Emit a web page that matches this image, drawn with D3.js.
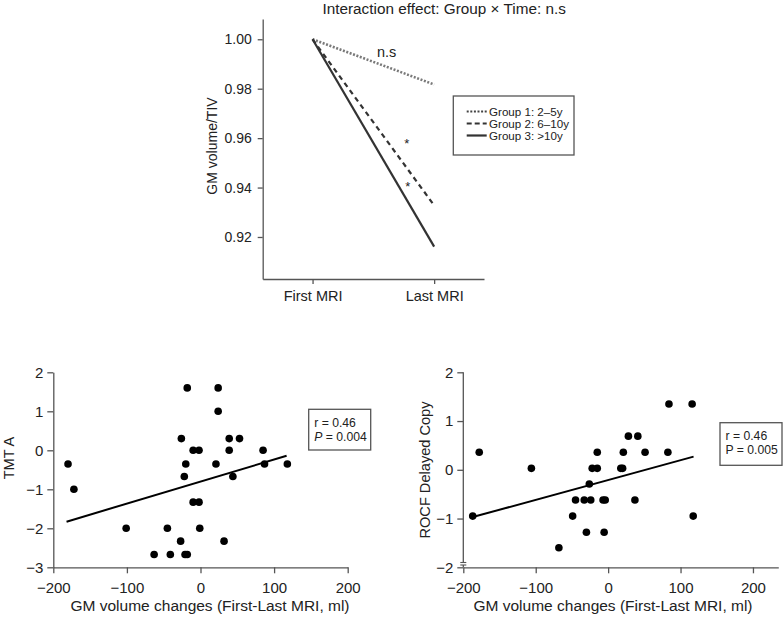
<!DOCTYPE html>
<html>
<head>
<meta charset="utf-8">
<script src="https://cdn.jsdelivr.net/npm/d3@7"></script>
<style>
  html, body { margin: 0; padding: 0; background: #fff; }
  svg { display: block; }
  text { font-family: "Liberation Sans", Arial, Helvetica, sans-serif; fill: #222; }
</style>
</head>
<body>
<svg id="chart" width="783" height="619"></svg>
<script>
// ---------- DATA ----------
const timeCategories = ["First MRI", "Last MRI"];
const groupNames = ["Group 1: 2–5y", "Group 2: 6–10y", "Group 3: >10y"];
const group1Values = [1.000, 0.9817];
const group2Values = [1.000, 0.9328];
const group3Values = [1.000, 0.9161];
const topYTicks = [0.92, 0.94, 0.96, 0.98, 1.00];

const tmtX = [-180, -172, -101, -18, 24, 24, -26, 39, 53, -10, -2, 39, -20, 21, -22, 44,
              -10, -2, -45, -1, -27, 32, -63, -41, -21, -18, 85, 87, 118];
const tmtY = [-0.35, -1.0, -2.0, 1.6, 1.6, 1.0, 0.3, 0.3, 0.3, 0, 0, 0, -0.35, -0.35, -0.67, -0.67,
              -1.33, -1.33, -2.0, -2.0, -2.33, -2.33, -2.67, -2.67, -2.67, -2.67, 0, -0.35, -0.35];
const tmtFitX = [-182, 117];
const tmtFitY = [-1.83, -0.14];
const tmtYTicks = [-3, -2, -1, 0, 1, 2];
const tmtStats = ["r = 0.46", "P = 0.004"];

const rocfX = [-187, -178, -106, -49, -68, -45, -33, -24, -30, -26, -22, -15, -15, -5.5, -7, -4,
               37, 17.5, 20, 21, 51, 82.5, 28, 41, 84, 116, 117.5];
const rocfY = [-0.95, 0.36, 0.03, -0.95, -1.6, -0.62, -0.62, -0.62, -1.28, -0.29, 0.03, 0.03, 0.36, -1.28, -0.62, -0.62,
               -0.62, 0.03, 0.03, 0.36, 0.36, 0.36, 0.69, 0.69, 1.35, 1.35, -0.95];
const rocfFitX = [-187, 118];
const rocfFitY = [-0.97, 0.27];
const rocfYTicks = [-2, -1, 0, 1, 2];
const rocfStats = ["r = 0.46", "P = 0.005"];

const xTicks = [-200, -100, 0, 100, 200];

// ---------- STYLE ----------
const axisColor = "#555";
const inkColor = "#222";
const svg = d3.select("#chart");

function styleAxis(g, fs) {
  g.selectAll("path.domain").attr("stroke", axisColor).attr("stroke-width", 1.3);
  g.selectAll(".tick line").attr("stroke", axisColor).attr("stroke-width", 1.3);
  g.selectAll(".tick text").attr("fill", inkColor)
    .style("font-family", '"Liberation Sans", Arial, sans-serif').style("font-size", fs + "px");
}

// ---------- TOP CHART ----------
const yTop = d3.scaleLinear().domain([0.903, 1.0082]).range([279, 19]);
const xTop = d3.scalePoint().domain(timeCategories).range([262.7, 484]).padding(0.41);

const gTopY = svg.append("g").attr("transform", "translate(262.7,0)")
  .call(d3.axisLeft(yTop).tickValues(topYTicks).tickFormat(d3.format(".2f"))
        .tickSize(5).tickPadding(6).tickSizeOuter(0));
styleAxis(gTopY, 14);
const gTopX = svg.append("g").attr("transform", "translate(0,279)")
  .call(d3.axisBottom(xTop).tickSize(5).tickPadding(7).tickSizeOuter(0));
styleAxis(gTopX, 14.5);

const groupSeries = [group1Values, group2Values, group3Values];
const groupStyles = [
  { stroke: "#7a7a7a", width: 2.6, dash: "2,1.6" },
  { stroke: "#333", width: 2.2, dash: "5,4" },
  { stroke: "#333", width: 2.2, dash: null }
];
const lineTop = d3.line().x((d, i) => xTop(timeCategories[i])).y(d => yTop(d));
groupSeries.forEach((vals, k) => {
  svg.append("path").datum(vals).attr("d", lineTop)
    .attr("fill", "none").attr("stroke", groupStyles[k].stroke)
    .attr("stroke-width", groupStyles[k].width)
    .attr("stroke-dasharray", groupStyles[k].dash);
});

svg.append("text").attr("x", 322.5).attr("y", 13.5).style("font-size", "15.3px")
  .text("Interaction effect: Group × Time: n.s");
svg.append("text").attr("transform", "translate(216.7,146) rotate(-90)")
  .attr("text-anchor", "middle").style("font-size", "14px").text("GM volume/TIV");
svg.append("text").attr("x", 386.7).attr("y", 57).attr("text-anchor", "middle")
  .style("font-size", "14.5px").text("n.s");
svg.append("text").attr("x", 406.7).attr("y", 148).attr("text-anchor", "middle")
  .style("font-size", "13px").text("*");
svg.append("text").attr("x", 407.7).attr("y", 191).attr("text-anchor", "middle")
  .style("font-size", "13px").text("*");

// legend
svg.append("rect").attr("x", 453.3).attr("y", 96).attr("width", 120.7).attr("height", 59)
  .attr("fill", "#fff").attr("stroke", axisColor).attr("stroke-width", 1.3);
groupNames.forEach((name, k) => {
  const yy = 111.5 + k * 12;
  svg.append("line").attr("x1", 466.7).attr("x2", 486.7).attr("y1", yy).attr("y2", yy)
    .attr("stroke", k === 0 ? "#444" : "#333").attr("stroke-width", 2.2)
    .attr("stroke-dasharray", k === 0 ? "2,1.6" : (k === 1 ? "5,3" : null));
  svg.append("text").attr("x", 489).attr("y", yy + 4).style("font-size", "11.6px").text(name);
});

// ---------- SCATTER HELPERS ----------
function scatter(opts) {
  const x = d3.scaleLinear().domain(opts.xDomain).range(opts.xRange);
  const y = d3.scaleLinear().domain(opts.yDomain).range(opts.yRange);
  const gx = svg.append("g").attr("transform", `translate(0,${opts.yRange[0]})`)
    .call(d3.axisBottom(x).tickValues(xTicks).tickFormat(d3.format("d"))
          .tickSize(6).tickPadding(9).tickSizeOuter(0));
  styleAxis(gx, 15);
  const gy = svg.append("g").attr("transform", `translate(${opts.xRange[0]},0)`)
    .call(d3.axisLeft(y).tickValues(opts.yTicks).tickFormat(d3.format("d"))
          .tickSize(6).tickPadding(4).tickSizeOuter(0));
  styleAxis(gy, 15);
  if (opts.breakAxis) {
    gy.select("path.domain").remove();
    const x0 = opts.xRange[0];
    const yb = opts.yRange[0];
    svg.append("line").attr("x1", x0).attr("x2", x0).attr("y1", opts.yRange[1]).attr("y2", yb - 4.8)
      .attr("stroke", axisColor).attr("stroke-width", 1.3);
    [yb - 4.8, yb - 2.3].forEach(v => {
      svg.append("line").attr("x1", x0 - 3).attr("x2", x0 + 3).attr("y1", v).attr("y2", v)
        .attr("stroke", axisColor).attr("stroke-width", 1.1);
    });
    svg.append("line").attr("x1", x0).attr("x2", x0).attr("y1", yb - 2.3).attr("y2", yb)
      .attr("stroke", axisColor).attr("stroke-width", 1.3);
  }
  const pts = opts.xs.map((v, i) => [v, opts.ys[i]]);
  svg.append("g").selectAll("circle").data(pts).enter().append("circle")
    .attr("cx", d => x(d[0])).attr("cy", d => y(d[1])).attr("r", 3.8).attr("fill", "#000");
  const fit = opts.fitX.map((v, i) => [v, opts.fitY[i]]);
  svg.append("path").datum(fit)
    .attr("d", d3.line().x(d => x(d[0])).y(d => y(d[1])))
    .attr("fill", "none").attr("stroke", "#000").attr("stroke-width", 2);
  // stats box
  svg.append("rect").attr("x", opts.box[0]).attr("y", opts.box[1])
    .attr("width", opts.box[2]).attr("height", opts.box[3])
    .attr("fill", "#fff").attr("stroke", axisColor).attr("stroke-width", 1.3);
  svg.append("text").attr("x", opts.box[0] + 5.5).attr("y", opts.box[1] + 17.5)
    .style("font-size", "12.2px").text(opts.stats[0]);
  const t2 = svg.append("text").attr("x", opts.box[0] + 5.5).attr("y", opts.box[1] + 31.5)
    .style("font-size", "12.2px");
  if (opts.italicP) {
    t2.append("tspan").style("font-style", "italic").text(opts.stats[1].slice(0, 1));
    t2.append("tspan").text(opts.stats[1].slice(1));
  } else {
    t2.text(opts.stats[1]);
  }
  // labels
  svg.append("text").attr("x", opts.xLabelX).attr("y", 610.5).attr("text-anchor", "middle")
    .style("font-size", "15.5px").text("GM volume changes (First-Last MRI, ml)");
  svg.append("text").attr("transform", `translate(${opts.yLabelPos[0]},${opts.yLabelPos[1]}) rotate(-90)`)
    .attr("text-anchor", "middle").style("font-size", "14.6px").text(opts.yLabel);
}

scatter({
  xDomain: [-200, 200], xRange: [53.3, 347.7],
  yDomain: [-3, 2], yRange: [567.3, 372.3], yTicks: tmtYTicks,
  xs: tmtX, ys: tmtY, fitX: tmtFitX, fitY: tmtFitY,
  box: [308.7, 409.3, 62, 40.7], stats: tmtStats, italicP: true,
  xLabelX: 210, yLabel: "TMT A", yLabelPos: [14, 458], breakAxis: false
});

scatter({
  xDomain: [-200, 235], xRange: [463.3, 778.3],
  yDomain: [-2, 2], yRange: [567.3, 372.3], yTicks: rocfYTicks,
  xs: rocfX, ys: rocfY, fitX: rocfFitX, fitY: rocfFitY,
  box: [720, 422.7, 62, 42.6], stats: rocfStats, italicP: false,
  xLabelX: 613, yLabel: "ROCF Delayed Copy", yLabelPos: [429.5, 470], breakAxis: true
});
</script>
</body>
</html>
